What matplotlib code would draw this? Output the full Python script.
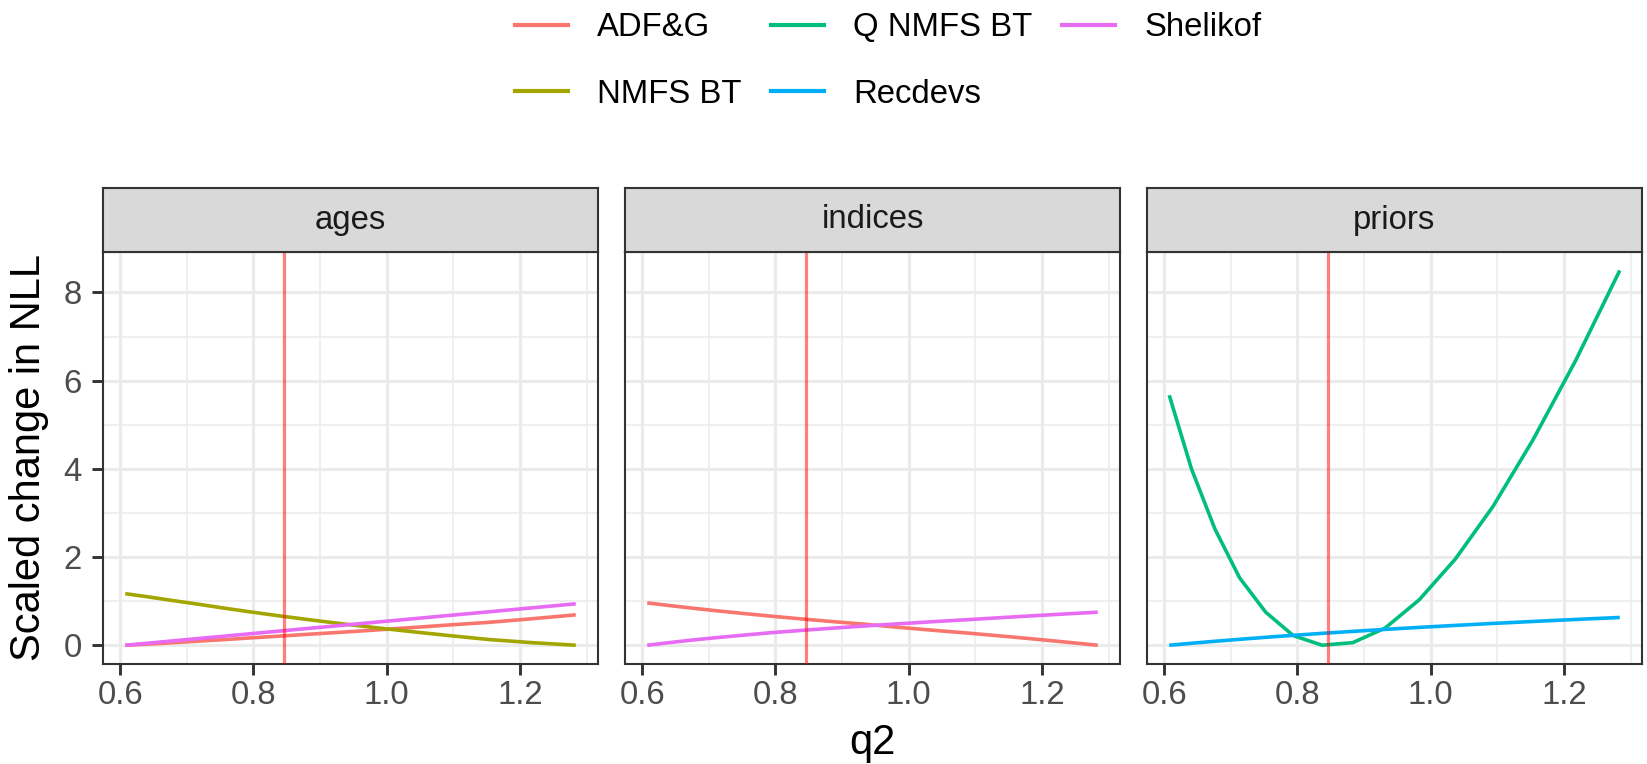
import matplotlib
matplotlib.use("Agg")
import matplotlib.pyplot as plt
from matplotlib.lines import Line2D
from matplotlib.ticker import MultipleLocator, FuncFormatter

plt.rcParams['font.family'] = ['Liberation Sans', 'DejaVu Sans']

# ---- data ----
q2 = [0.6075, 0.6409, 0.6760, 0.7131, 0.7523, 0.7936, 0.8371, 0.8831,
      0.9316, 0.9827, 1.0367, 1.0936, 1.1536, 1.2170, 1.2838]
q2_est = 0.8455

facets = ["ages", "indices", "priors"]

ages_adfg = [0.0, 0.025, 0.055, 0.09, 0.125, 0.165, 0.205, 0.25,
             0.295, 0.345, 0.40, 0.46, 0.52, 0.60, 0.69]
ages_nmfs = [1.17, 1.10, 1.02, 0.94, 0.85, 0.76, 0.67, 0.58,
             0.49, 0.40, 0.31, 0.22, 0.13, 0.06, 0.0]
ages_shel = [0.0, 0.046, 0.095, 0.147, 0.201, 0.259, 0.319, 0.383,
             0.450, 0.522, 0.597, 0.676, 0.759, 0.847, 0.94]

ind_adfg = [0.96, 0.90, 0.84, 0.78, 0.72, 0.66, 0.60, 0.54,
            0.48, 0.41, 0.34, 0.27, 0.19, 0.10, 0.0]
ind_shel = [0.0, 0.06, 0.12, 0.175, 0.23, 0.285, 0.335, 0.385,
            0.435, 0.485, 0.535, 0.585, 0.64, 0.695, 0.75]

pri_qnmfs = [5.67, 4.00, 2.64, 1.53, 0.75, 0.22, 0.0, 0.06,
             0.39, 1.03, 1.95, 3.15, 4.66, 6.44, 8.50]
pri_rec = [0.0, 0.045, 0.09, 0.135, 0.18, 0.225, 0.27, 0.315,
           0.36, 0.405, 0.45, 0.495, 0.54, 0.585, 0.63]

series_names = ["ADF&G", "NMFS BT", "Q NMFS BT", "Recdevs", "Shelikof"]
series_colors = {"ADF&G": "#F8766D", "NMFS BT": "#A3A500",
                 "Q NMFS BT": "#00BF7D", "Recdevs": "#00B0F6",
                 "Shelikof": "#E76BF3"}

panel_data = {
    "ages": [("ADF&G", ages_adfg), ("NMFS BT", ages_nmfs), ("Shelikof", ages_shel)],
    "indices": [("ADF&G", ind_adfg), ("Shelikof", ind_shel)],
    "priors": [("Q NMFS BT", pri_qnmfs), ("Recdevs", pri_rec)],
}

# ---- layout ----
W, H = 1647, 764
fig = plt.figure(figsize=(W / 100, H / 100), dpi=100)

p_left0 = 102.7
p_w = 495.6
p_gap = 26.4
p_top = 251.7
p_bot = 664.0
strip_top = 188.3

all_y = ages_adfg + ages_nmfs + ages_shel + ind_adfg + ind_shel + pri_qnmfs + pri_rec
ylo, yhi = min(all_y), max(all_y)
ypad = 0.05 * (yhi - ylo)
xlo, xhi = min(q2), max(q2)
xpad = 0.05 * (xhi - xlo)

dark = "#333333"
tick_col = "#4D4D4D"
txt_fs = 23.7
title_fs = 30

for i, fac in enumerate(facets):
    l = p_left0 + i * (p_w + p_gap)
    ax = fig.add_axes([l / W, 1 - p_bot / H, p_w / W, (p_bot - p_top) / H])
    ax.set_xlim(xlo - xpad, xhi + xpad)
    ax.set_ylim(ylo - ypad, yhi + ypad)
    ax.xaxis.set_major_locator(MultipleLocator(0.2))
    ax.xaxis.set_minor_locator(MultipleLocator(0.1))
    ax.yaxis.set_major_locator(MultipleLocator(2))
    ax.yaxis.set_minor_locator(MultipleLocator(1))
    ax.grid(which='major', color='#EBEBEB', linewidth=2.2)
    ax.grid(which='minor', color='#EBEBEB', linewidth=1.1)
    ax.set_axisbelow(True)
    for s in ax.spines.values():
        s.set_color(dark)
        s.set_linewidth(1.5)
    ax.tick_params(which='major', length=8, width=2.1, color=dark,
                   labelsize=txt_fs, labelcolor=tick_col)
    ax.tick_params(axis='x', which='major', pad=3.6)
    ax.tick_params(axis='y', which='major', pad=7)
    ax.tick_params(which='minor', length=0)
    ax.xaxis.set_major_formatter(FuncFormatter(lambda v, p: f"{v:.1f}"))
    ax.yaxis.set_major_formatter(FuncFormatter(lambda v, p: f"{v:.0f}"))
    if i > 0:
        ax.tick_params(axis='y', which='both', length=0, labelleft=False)
    for name, vals in panel_data[fac]:
        ax.plot(q2, vals, color=series_colors[name], linewidth=2.6,
                solid_capstyle='butt', zorder=3)
    ax.axvline(q2_est, color='red', alpha=0.5, linewidth=2.3, zorder=4)

    # strip
    sax = fig.add_axes([l / W, 1 - p_top / H, p_w / W, (p_top - strip_top) / H])
    sax.set_facecolor('#D9D9D9')
    sax.set_xticks([]); sax.set_yticks([])
    for s in sax.spines.values():
        s.set_color(dark)
        s.set_linewidth(1.5)
    sax.text(0.5, 0.5, fac, ha='center', va='center', fontsize=txt_fs,
             color='#1A1A1A', transform=sax.transAxes)

# axis titles
fig.text(29 / W, 1 - ((p_top + p_bot) / 2) / H, "Scaled change in NLL",
         rotation=90, ha='center', va='center', fontsize=title_fs, color='black')
fig.text((p_left0 + (3 * p_w + 2 * p_gap) / 2) / W, 1 - 743 / H, "q2",
         ha='center', va='center', fontsize=title_fs, color='black')

# legend
handles = [Line2D([0], [0], color=series_colors[n], linewidth=3.0) for n in series_names]
fig.legend(handles, series_names, loc='center', bbox_to_anchor=(888 / W, 1 - 61 / H),
           ncol=3, frameon=False, fontsize=txt_fs, handlelength=1.61,
           handletextpad=0.88, columnspacing=0.91, labelspacing=1.07,
           borderpad=0.2)

fig.savefig("out.png", dpi=100)
